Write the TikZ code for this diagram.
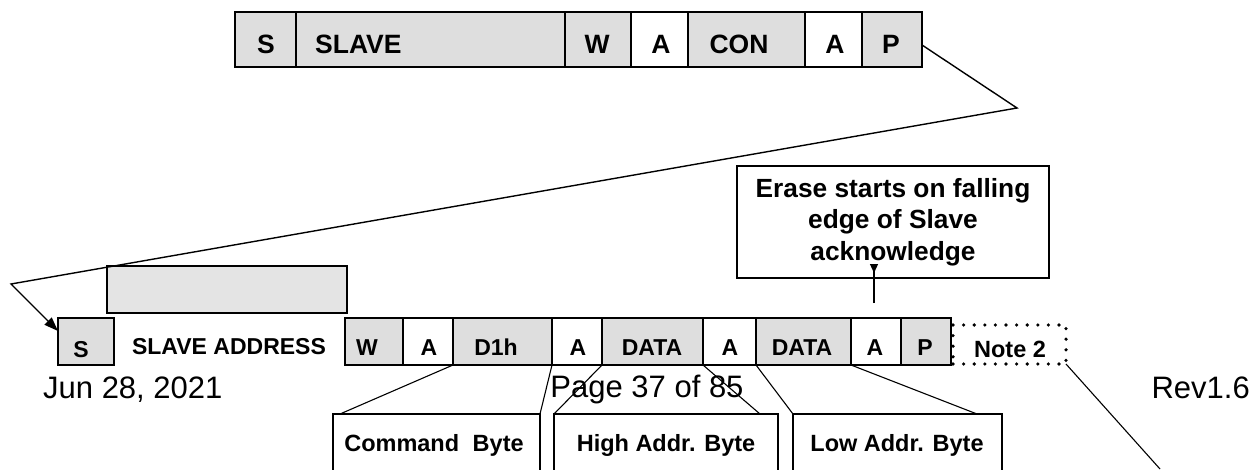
\documentclass[tikz,border=0pt]{standalone}
\usepackage{fontspec}
\setmainfont{Liberation Sans}
\usetikzlibrary{arrows.meta,calc}
\definecolor{cellgray}{HTML}{DEDEDE}
\definecolor{boxgray}{HTML}{E4E4E4}
\begin{document}
\begin{tikzpicture}[x=1pt,y=-1pt,
  cellbase/.style={draw=black,line width=1.4pt,anchor=north west,inner sep=0pt,outer sep=0pt},
  topcell/.style={cellbase,minimum height=55pt,fill=cellgray},
  botcell/.style={cellbase,minimum height=47pt,fill=cellgray},
  whitecell/.style={fill=white},
  bytebox/.style={cellbase,line width=1.2pt,minimum height=80pt},
  toptxt/.style={anchor=base,inner sep=0pt,font=\fontsize{26.5}{31}\selectfont\bfseries},
  bottxt/.style={anchor=base,inner sep=0pt,font=\fontsize{23}{28}\selectfont\bfseries},
  bytetxt/.style={anchor=base,inner sep=0pt,font=\fontsize{23.5}{28}\selectfont\bfseries},
  foottxt/.style={anchor=base,inner sep=0pt,font=\fontsize{31}{36}\selectfont},
  conn/.style={draw=black,line width=1.1pt},
  notebox/.style={draw=black,line width=3.6pt,dash pattern=on 0pt off 10.6pt,line cap=round,anchor=north west,inner sep=0pt,outer sep=0pt,minimum width=113pt,minimum height=39pt}
]
\useasboundingbox (0,0) rectangle (1253,469);
\clip (0,0) rectangle (1253,469);

% ---------- top frame ----------
\node[topcell,minimum width=61pt] (tS) at (235,12) {};
\node[topcell,minimum width=269pt] (tSlave) at (tS.north east) {};
\node[topcell,minimum width=66pt] (tW) at (tSlave.north east) {};
\node[topcell,whitecell,minimum width=57pt] (tA1) at (tW.north east) {};
\node[topcell,minimum width=117pt] (tCon) at (tA1.north east) {};
\node[topcell,whitecell,minimum width=57pt] (tA2) at (tCon.north east) {};
\node[topcell,minimum width=60pt] (tP) at (tA2.north east) {};

\node[toptxt] (tSt) at (266,53) {S};
\node[toptxt,anchor=base west] (tSlavet) at (315,53) {SLAVE};
\node[toptxt] (tWt) at (597,53) {W};
\node[toptxt] (tA1t) at (661,53) {A};
\node[toptxt] (tCont) at (739,53) {CON};
\node[toptxt] (tA2t) at (835,53) {A};
\node[toptxt] (tPt) at (891,53) {P};

% ---------- erase note ----------
\node[draw=black,line width=1.8pt,minimum width=312pt,minimum height=112pt,inner sep=0pt,outer sep=0pt,
      align=center,font=\fontsize{26.3}{31.5}\selectfont\bfseries] (erase) at (893,222)
      {Erase starts on falling\\edge of Slave\\acknowledge};

% ---------- bottom frame ----------
\node[cellbase,fill=boxgray,minimum width=240pt,minimum height=47pt] (addrbox) at (107,266) {};
\node[botcell,minimum width=56pt] (bS) at (58,318) {};
\node[botcell,minimum width=58pt] (bW) at (345,318) {};
\node[botcell,whitecell,minimum width=50pt] (bA1) at (bW.north east) {};
\node[botcell,minimum width=99pt] (bD1h) at (bA1.north east) {};
\node[botcell,whitecell,minimum width=50pt] (bA2) at (bD1h.north east) {};
\node[botcell,minimum width=101pt] (bData1) at (bA2.north east) {};
\node[botcell,whitecell,minimum width=53pt] (bA3) at (bData1.north east) {};
\node[botcell,minimum width=95pt] (bData2) at (bA3.north east) {};
\node[botcell,whitecell,minimum width=50pt] (bA4) at (bData2.north east) {};
\node[botcell,minimum width=50pt] (bP) at (bA4.north east) {};
\node[notebox] (note) at (953,325) {};

\node[bottxt] (bSt) at (81,357) {S};
\node[bottxt] (bSlavet) at (229,354) {SLAVE ADDRESS};
\node[bottxt] (bWt) at (367,355) {W};
\node[bottxt] (bA1t) at (429,355) {A};
\node[bottxt] (bD1ht) at (496,355) {D1h};
\node[bottxt] (bA2t) at (578,355) {A};
\node[bottxt] (bData1t) at (652,355) {DATA};
\node[bottxt] (bA3t) at (730,355) {A};
\node[bottxt] (bData2t) at (802,355) {DATA};
\node[bottxt] (bA4t) at (875,355) {A};
\node[bottxt] (bPt) at (925,355) {P};
\node[bytetxt] (notet) at (1010,357) {Note 2};

% ---------- byte boxes ----------
\node[bytebox,minimum width=207pt] (cmd) at (333,414) {};
\node[bytebox,minimum width=224pt] (high) at (554,414) {};
\node[bytebox,minimum width=209pt] (low) at (793,414) {};
\node[bytetxt] (cmdt) at (434,451) {Command\hspace{0.3em} Byte};
\node[bytetxt] (hight) at (666,451) {High Addr. Byte};
\node[bytetxt] (lowt) at (897,451) {Low Addr. Byte};

% ---------- footer ----------
\node[foottxt,anchor=base west] (date) at (43,398) {Jun 28, 2021};
\node[foottxt] (page) at (647,397) {Page 37 of 85};
\node[foottxt,anchor=base east] (rev) at (1250,398) {Rev1.6};

% ---------- connectors ----------
\coordinate (pOut) at ($(tP.east)+(0,5.5)$);
\coordinate (turnR) at (1017,108);
\coordinate (turnL) at (11,284);
\coordinate (sIn) at ($(bS.north west)+(0,13)$);
\draw[conn,line width=1.4pt,-{Triangle[length=14pt,width=10pt]}] (pOut) -- (turnR) -- (turnL) -- (sIn);

\draw[conn] (bD1h.south west) -- ($(cmd.north west)+(7,0)$);
\draw[conn] (bA2.south west) -- (cmd.north east);
\draw[conn] (bA2.south east) -- (high.north west);
\draw[conn] (bData1.south east) -- ($(high.north east)+(-18,0)$);
\draw[conn] (bA3.south east) -- (low.north west);
\draw[conn] (bData2.south east) -- ($(low.north east)+(-25,0)$);
\coordinate (noteEnd) at (1160,469);
\draw[conn] (note.south east) -- (noteEnd);

\coordinate (ackBot) at (874,303);
\coordinate (ackTop) at (874,264);
\coordinate (ackTip) at (874,273);
\draw[conn] (ackBot) -- (ackTop);
\draw[conn,-{Triangle[length=9pt,width=8pt]}] (ackTop) -- (ackTip);
\end{tikzpicture}
\end{document}
